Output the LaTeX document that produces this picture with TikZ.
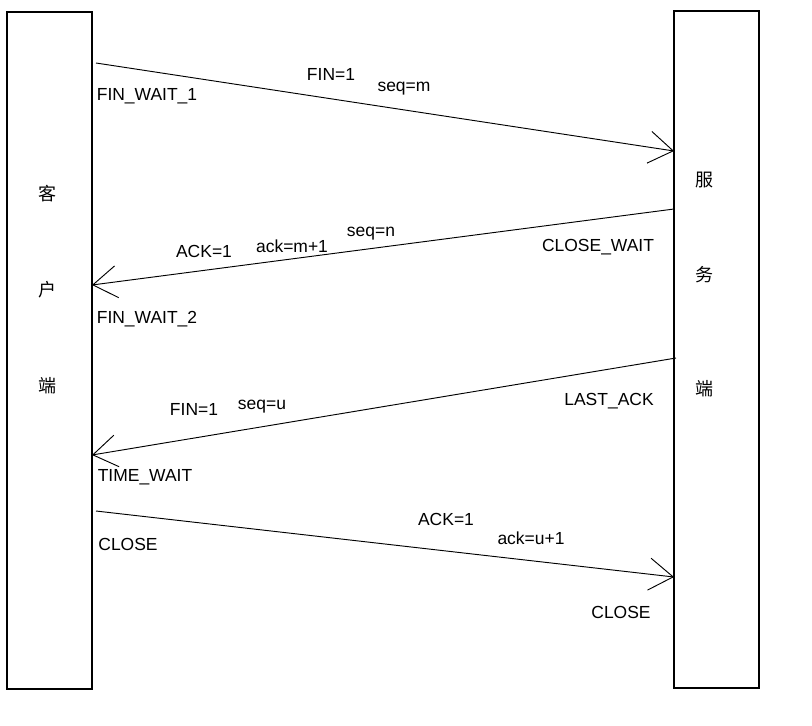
\documentclass[tikz,border=0pt]{standalone}
\usepackage{fontspec}
\setmainfont{Liberation Sans}
\newfontfamily\cjk{Noto Sans CJK SC}
\usetikzlibrary{arrows.meta}
\begin{document}
\begin{tikzpicture}[x=0.75pt,y=-0.75pt,
  lane/.style={draw=black,line width=0.9pt,minimum width=63.75pt,minimum height=507.75pt,inner sep=0pt,outer sep=0pt},
  msg/.style={draw=black,line width=0.7pt,-{Straight Barb[length=18pt,width=24pt,line width=0.7pt]}},
  lbl/.style={font=\fontsize{13.1pt}{15pt}\selectfont,inner sep=0pt},
  zh/.style={font=\cjk\fontsize{13.5pt}{15pt}\selectfont,inner sep=0pt}]
\useasboundingbox (0,0) rectangle (812,725);
\fill[white] (0,0) rectangle (812,725);
% lanes
\node[lane] (client) at (49.5,350.5) {};
\node[lane] (server) at (716.5,349.5) {};
\node[zh] (c1) at (47,194) {客};
\node[zh] (c2) at (47,290) {户};
\node[zh] (c3) at (47,386) {端};
\node[zh] (s1) at (704,180) {服};
\node[zh] (s2) at (704,275) {务};
\node[zh] (s3) at (704,389) {端};
% end points
\coordinate (m1a) at (96,63);
\coordinate (m1b) at (674,151);
\coordinate (m2a) at (674,209);
\coordinate (m2b) at (92,285);
\coordinate (m3a) at (676,358);
\coordinate (m3b) at (92,455);
\coordinate (m4a) at (96,511);
\coordinate (m4b) at (674,577);
\draw[msg] (m1a) -- (m1b);
\draw[msg] (m2a) -- (m2b);
\draw[msg] (m3a) -- (m3b);
\draw[msg] (m4a) -- (m4b);
% labels
\node[lbl] (t1) at (331,74) {FIN=1};
\node[lbl] (t2) at (404,89) {seq=m};
\node[lbl] (t3) at (147,96) {FIN\_WAIT\_1};
\node[lbl] (t4) at (204,251) {ACK=1};
\node[lbl] (t5) at (292,246) {ack=m+1};
\node[lbl] (t6) at (371,234) {seq=n};
\node[lbl] (t7) at (598,247) {CLOSE\_WAIT};
\node[lbl] (t8) at (147,319) {FIN\_WAIT\_2};
\node[lbl] (t9) at (194,409) {FIN=1};
\node[lbl] (t10) at (262,407) {seq=u};
\node[lbl] (t11) at (609,401) {LAST\_ACK};
\node[lbl] (t12) at (145,477) {TIME\_WAIT};
\node[lbl] (t13) at (128,544) {CLOSE};
\node[lbl] (t14) at (446,519) {ACK=1};
\node[lbl] (t15) at (531,538) {ack=u+1};
\node[lbl] (t16) at (621,612) {CLOSE};
\end{tikzpicture}
\end{document}
